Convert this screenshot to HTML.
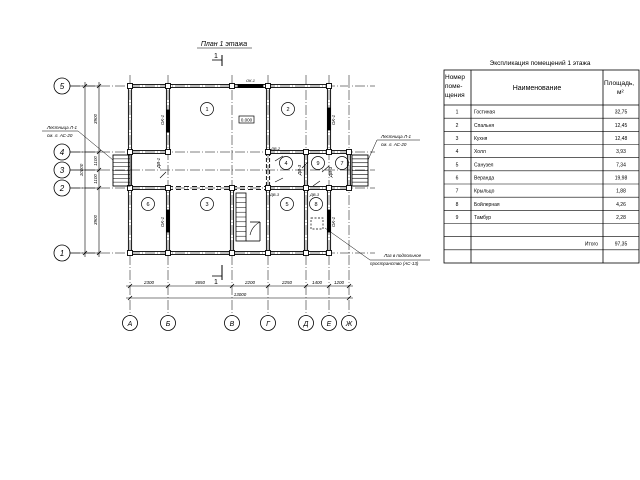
<!DOCTYPE html>
<html><head><meta charset="utf-8"><style>
html,body{margin:0;padding:0;background:#fff;width:640px;height:480px;overflow:hidden}
svg{display:block}
text{font-family:"Liberation Sans","DejaVu Sans",sans-serif;fill:#000}
.it{font-style:italic}
</style></head><body>
<svg id="s" width="640" height="480" viewBox="0 0 640 480" xmlns="http://www.w3.org/2000/svg">
<g stroke="#000" fill="none" stroke-width="0.8" id="g">
</g>
<text x="224" y="46" font-size="7" class="it" text-anchor="middle">План 1 этажа</text>
<line x1="197" y1="48" x2="252" y2="48" stroke="#000" stroke-width="0.6"/>
<text x="540" y="65" font-size="6.5" text-anchor="middle" fill="#333">Экспликация помещений 1 этажа</text>
<g stroke="#000" stroke-width="0.8" fill="none">
<rect x="444" y="70" width="195" height="193"/>
<line x1="471" y1="70" x2="471" y2="263"/>
<line x1="603" y1="70" x2="603" y2="263"/>
<line x1="444" y1="105" x2="639" y2="105"/>
</g>
<g id="tbl"></g>
<text x="445" y="79" font-size="6.5">Номер</text>
<text x="445" y="88" font-size="6.5">поме-</text>
<text x="445" y="97" font-size="6.5">щения</text>
<text x="537" y="90" font-size="7" text-anchor="middle">Наименование</text>
<text x="604" y="85" font-size="6.5">Площадь,</text>
<text x="617" y="94" font-size="6.5">м²</text>
</svg>
<script>
const NS="http://www.w3.org/2000/svg";
const g=document.getElementById('g'), s=document.getElementById('s');
function el(t,a,p){const e=document.createElementNS(NS,t);for(const k in a)e.setAttribute(k,a[k]);(p||g).appendChild(e);return e;}
function L(x1,y1,x2,y2,w,da){const a={x1,y1,x2,y2};if(w)a['stroke-width']=w;if(da)a['stroke-dasharray']=da;return el('line',a);}
function T(x,y,t,fs,extra){const a=Object.assign({x,y,'font-size':fs||5},extra||{});const e=el('text',a,s);e.textContent=t;return e;}
const X={A:130,B:168,V:232,G:268,D:306,E:329,Z:349};
const Y={5:86,4:152,3:170,2:188,1:253};
for(const k in Y){L(70,Y[k],375,Y[k],0.5,'10 2 1 2');}
for(const k in X){L(X[k],75,X[k],316,0.5,'10 2 1 2');}
function WH(x1,x2,y,dash){L(x1,y-1.6,x2,y-1.6,0.9,dash);L(x1,y+1.6,x2,y+1.6,0.9,dash);}
function WV(x,y1,y2,dash){L(x-1.6,y1,x-1.6,y2,0.9,dash);L(x+1.6,y1,x+1.6,y2,0.9,dash);}
WH(130,329,86);WH(130,329,253);
WV(130,86,253);WV(329,86,152);WV(329,188,253);
WV(168,86,152);WV(168,188,253);
WV(268,86,152);WV(268,152,188,'4 2');WV(268,188,253);
WV(232,188,253);WV(306,152,253);
WH(130,168,152);WH(268,349,152);
WH(130,168,188);WH(168,268,188,'5 3');WH(268,349,188);
WV(349,152,188);
const nodes=[[130,86],[168,86],[232,86],[268,86],[329,86],[130,152],[168,152],[268,152],[306,152],[329,152],[349,152],[130,188],[168,188],[232,188],[268,188],[306,188],[329,188],[349,188],[130,253],[168,253],[232,253],[268,253],[306,253],[329,253]];
for(const [x,y] of nodes){el('rect',{x:x-2.5,y:y-2.5,width:5,height:5,fill:'#fff','stroke-width':0.9});}
el('rect',{x:238,y:84.5,width:25,height:3,fill:'#000'});
el('rect',{x:166.5,y:110,width:3,height:22,fill:'#000'});
el('rect',{x:166.5,y:210,width:3,height:22,fill:'#000'});
el('rect',{x:327.5,y:108,width:3,height:22,fill:'#000'});
el('rect',{x:327.5,y:210,width:3,height:22,fill:'#000'});
function stair(x,y,w,h,n){el('rect',{x,y,width:w,height:h,'stroke-width':0.9});for(let i=1;i<n;i++){L(x,y+i*h/n,x+w,y+i*h/n,0.6);}}
stair(113,155,17,31,8);stair(352,155,16,31,8);
el('rect',{x:236,y:193,width:10,height:48,'stroke-width':0.8});
for(let i=1;i<10;i++)L(236,193+i*4.8,246,193+i*4.8,0.5);
L(246,241,260,241,0.8);L(260,241,260,222,0.8);L(250,222,260,222,0.8);
el('path',{d:'M250 235 Q252 226 260 222','stroke-width':0.6});
el('rect',{x:311,y:218,width:12,height:11,'stroke-dasharray':'2 1.5','stroke-width':0.7});
L(160,178,166,172,0.6);L(275,161,283,156,0.6);L(275,182,283,178,0.6);L(302,168,308,162,0.6);L(313,186,320,181,0.6);L(322,172,329,166,0.6);
const rooms=[[207,109,'1'],[288,109,'2'],[207,204,'3'],[286,163,'4'],[287,204,'5'],[148,204,'6'],[342,163,'7'],[316,204,'8'],[318,163,'9']];
for(const [x,y,t] of rooms){el('circle',{cx:x,cy:y,r:6.5,'stroke-width':0.7});T(x,y+2,t,5.5,{'text-anchor':'middle'});}
el('rect',{x:239,y:116,width:15,height:7,'stroke-width':0.7});T(246.5,121.5,'0.000',4.5,{'text-anchor':'middle'});
const lb={5:'5',4:'4',3:'3',2:'2',1:'1'};
for(const k in Y){el('circle',{cx:62,cy:Y[k],r:8,'stroke-width':0.8});T(62,Y[k]+3,lb[k],8,{'text-anchor':'middle',class:'it'});L(70,Y[k],100,Y[k],0.5);}
const lx={A:'А',B:'Б',V:'В',G:'Г',D:'Д',E:'Е',Z:'Ж'};
for(const k in X){el('circle',{cx:X[k],cy:323,r:7.5,'stroke-width':0.8});T(X[k],326,lx[k],7,{'text-anchor':'middle',class:'it'});}
L(126,286,353,286,0.6);L(126,298,353,298,0.6);
for(const k in X){L(X[k]-2,288,X[k]+2,284,0.8);}
L(128,300,132,296,0.8);L(347,300,351,296,0.8);
const dv=[[149,'2300'],[200,'3650'],[250,'2200'],[287,'2250'],[317,'1400'],[339,'1200']];
for(const [x,t] of dv)T(x,284,t,4.5,{'text-anchor':'middle',class:'it'});
T(240,296,'13000',4.5,{'text-anchor':'middle',class:'it'});
L(85,82,85,257,0.6);L(99,82,99,257,0.6);
for(const k in Y){L(97,Y[k]+2,101,Y[k]-2,0.8);}
L(83,88,87,84,0.8);L(83,255,87,251,0.8);
function VT(x,y,t){T(x,y,t,4.5,{'text-anchor':'middle',transform:`rotate(-90 ${x} ${y})`,class:'it'});}
VT(97,119,'3900');VT(97,161,'1100');VT(97,179,'1100');VT(97,220,'3900');VT(83,170,'10000');
L(222,55,222,66,1);L(212,60,222,60,0.8);T(214,58,'1',7);
L(222,265,222,280,1);L(212,276,222,276,0.8);T(214,284,'1',7);
T(47,129,'Лестница Л-1',4.5,{class:'it'});T(47,137,'см. л. АС-20',4.5,{class:'it'});
L(42,131,78,131,0.5);L(78,131,113,160,0.5);
T(381,138,'Лестница Л-1',4.5,{class:'it'});T(381,146,'см. л. АС-20',4.5,{class:'it'});
L(377,140,420,140,0.5);L(377,140,368,160,0.5);
T(384,257,'Лаз в подпольное',4.5,{class:'it'});T(370,265,'пространство (АС-13)',4.5,{class:'it'});
L(325,228,370,260,0.5);L(370,260,430,260,0.5);
T(246,82,'ОК-1',4,{class:'it'});
VT(164,120,'ОК-1');VT(164,222,'ОК-1');VT(335,120,'ОК-1');VT(335,222,'ОК-1');VT(160,163,'ДВ-1');
T(271,150,'ДВ-2',4,{class:'it'});T(270,196,'ДВ-3',4,{class:'it'});T(310,196,'ДВ-3',4,{class:'it'});
VT(301,170,'ДВ-3');VT(332,172,'ДВ-3');
const tb=document.getElementById('tbl');
const rows=[['1','Гостиная','32,75'],['2','Спальня','12,45'],['3','Кухня','12,48'],['4','Холл','3,93'],['5','Санузел','7,34'],['6','Веранда','19,98'],['7','Крыльцо','1,88'],['8','Бойлерная','4,26'],['9','Тамбур','2,28'],['','',''],['','Итого','97,35'],['','','']];
const rh=(263-105)/12;
rows.forEach((r,i)=>{const y=105+rh*(i+1);
 if(i<11) el('line',{x1:444,y1:y,x2:639,y2:y,stroke:'#000','stroke-width':0.6},tb);
 const ty=105+rh*i+rh/2+2;
 T(457,ty,r[0],5,{'text-anchor':'middle'});
 if(r[1]==='Итого')T(598,ty,r[1],5,{'text-anchor':'end'});else T(474,ty,r[1],5);
 T(621,ty,r[2],5,{'text-anchor':'middle'});
});
</script>
</body></html>
